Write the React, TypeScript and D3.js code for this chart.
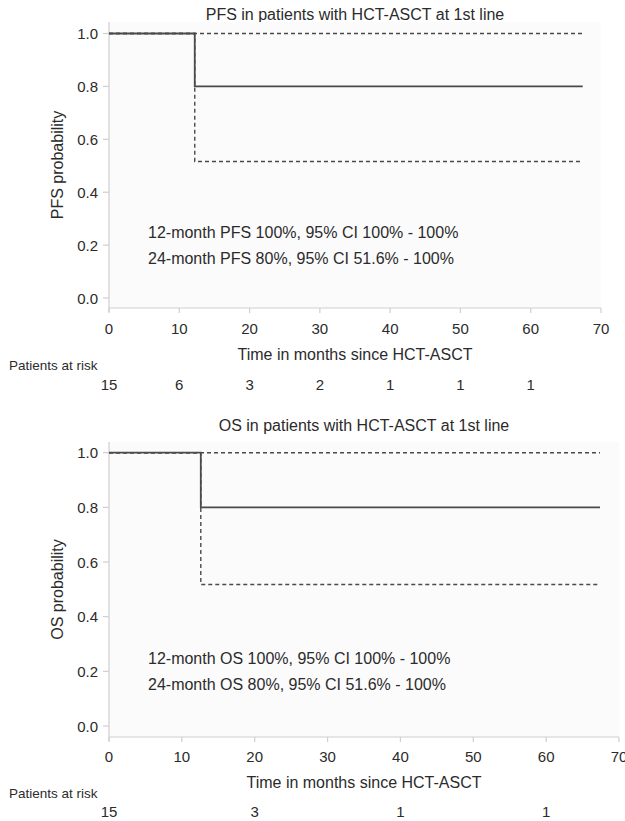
import React from "react";
import * as d3 from "d3";

// ---------- Data ----------
const pfsEstimate: [number, number][] = [[0, 1.0], [12.2, 0.8], [67.4, 0.8]];
const pfsUpper: [number, number][] = [[0, 1.0], [67.4, 1.0]];
const pfsLower: [number, number][] = [[0, 1.0], [12.2, 0.516], [67.4, 0.516]];
const pfsRiskTimes = [0, 10, 20, 30, 40, 50, 60];
const pfsRiskCounts = [15, 6, 3, 2, 1, 1, 1];
const pfsNotes = [
  "12-month PFS 100%, 95% CI 100% - 100%",
  "24-month PFS 80%, 95% CI 51.6% - 100%",
];

const osEstimate: [number, number][] = [[0, 1.0], [12.6, 0.8], [67.4, 0.8]];
const osUpper: [number, number][] = [[0, 1.0], [67.4, 1.0]];
const osLower: [number, number][] = [[0, 1.0], [12.6, 0.518], [67.4, 0.518]];
const osRiskTimes = [0, 20, 40, 60];
const osRiskCounts = [15, 3, 1, 1];
const osNotes = [
  "12-month OS 100%, 95% CI 100% - 100%",
  "24-month OS 80%, 95% CI 51.6% - 100%",
];

const xTicks = [0, 10, 20, 30, 40, 50, 60, 70];
const yTicks = [0, 0.2, 0.4, 0.6, 0.8, 1.0];

const FONT = "'Liberation Sans', Arial, Helvetica, sans-serif";
const TEXT = "#2b2b2b";
const LINE = "#4a4a4a";
const AXIS = "#cfcfcf";

type PanelProps = {
  title: string;
  yLabel: string;
  estimate: [number, number][];
  upper: [number, number][];
  lower: [number, number][];
  riskTimes: number[];
  riskCounts: number[];
  notes: string[];
  titleY: number;
  plotTop: number;
  y0: number;
  y1: number;
  axisY: number;
  xLeft: number;
  xRight: number;
  tickLabelY: number;
  xLabelY: number;
  riskHeaderY: number;
  riskY: number;
  notesY: number[];
};

function Panel(p: PanelProps) {
  const x = d3.scaleLinear().domain([0, 70]).range([p.xLeft, p.xRight]);
  const y = d3.scaleLinear().domain([0, 1]).range([p.y0, p.y1]);
  const line = d3
    .line<[number, number]>()
    .x((d) => x(d[0]))
    .y((d) => y(d[1]))
    .curve(d3.curveStepAfter);
  const fmt = d3.format(".1f");
  const cx = (p.xLeft + p.xRight) / 2;
  return (
    <g fontFamily={FONT} fill={TEXT}>
      <text x={cx} y={p.titleY} textAnchor="middle" dominantBaseline="central" fontSize={16}>
        {p.title}
      </text>
      <rect
        x={p.xLeft}
        y={p.plotTop}
        width={p.xRight - p.xLeft}
        height={p.axisY - p.plotTop}
        fill="#fbfbfb"
      />
      <line x1={p.xLeft} x2={p.xLeft} y1={p.plotTop} y2={p.axisY + 4} stroke={AXIS} strokeWidth={1.2} />
      <line x1={p.xLeft} x2={p.xRight} y1={p.axisY} y2={p.axisY} stroke={AXIS} strokeWidth={1.2} />
      {yTicks.map((t) => (
        <g key={"y" + t}>
          <line x1={p.xLeft - 6} x2={p.xLeft} y1={y(t)} y2={y(t)} stroke={AXIS} strokeWidth={1.2} />
          <text x={p.xLeft - 11} y={y(t)} textAnchor="end" dominantBaseline="central" fontSize={15}>
            {fmt(t)}
          </text>
        </g>
      ))}
      {xTicks.map((t) => (
        <g key={"x" + t}>
          <line x1={x(t)} x2={x(t)} y1={p.axisY} y2={p.axisY + 5} stroke={AXIS} strokeWidth={1.2} />
          <text x={x(t)} y={p.tickLabelY} textAnchor="middle" dominantBaseline="central" fontSize={15}>
            {t}
          </text>
        </g>
      ))}
      <text
        transform={`translate(57,${(p.plotTop + p.axisY) / 2}) rotate(-90)`}
        textAnchor="middle"
        dominantBaseline="central"
        fontSize={16}
      >
        {p.yLabel}
      </text>
      <text x={cx} y={p.xLabelY} textAnchor="middle" dominantBaseline="central" fontSize={16}>
        Time in months since HCT-ASCT
      </text>
      <text x={9} y={p.riskHeaderY} dominantBaseline="central" fontSize={13.5}>
        Patients at risk
      </text>
      {p.riskTimes.map((t, i) => (
        <text key={"r" + t} x={x(t)} y={p.riskY} textAnchor="middle" dominantBaseline="central" fontSize={15}>
          {p.riskCounts[i]}
        </text>
      ))}
      <path d={line(p.upper) || ""} fill="none" stroke={LINE} strokeWidth={1.4} strokeDasharray="4,3" />
      <path d={line(p.lower) || ""} fill="none" stroke={LINE} strokeWidth={1.4} strokeDasharray="4,3" />
      <path d={line(p.estimate) || ""} fill="none" stroke={LINE} strokeWidth={1.8} />
      {p.notes.map((n, i) => (
        <text key={"n" + i} x={p.xLeft + 39} y={p.notesY[i]} dominantBaseline="central" fontSize={16}>
          {n}
        </text>
      ))}
    </g>
  );
}

export default function App() {
  return (
    <svg
      width={625}
      height={821}
      style={{ position: "absolute", left: 0, top: 0, background: "#ffffff" }}
    >
      <Panel
        title="PFS in patients with HCT-ASCT at 1st line"
        yLabel="PFS probability"
        estimate={pfsEstimate}
        upper={pfsUpper}
        lower={pfsLower}
        riskTimes={pfsRiskTimes}
        riskCounts={pfsRiskCounts}
        notes={pfsNotes}
        titleY={14}
        plotTop={22}
        y0={298}
        y1={33.5}
        axisY={308}
        xLeft={109}
        xRight={601}
        tickLabelY={328}
        xLabelY={354}
        riskHeaderY={365}
        riskY={384}
        notesY={[232, 258]}
      />
      <Panel
        title="OS in patients with HCT-ASCT at 1st line"
        yLabel="OS probability"
        estimate={osEstimate}
        upper={osUpper}
        lower={osLower}
        riskTimes={osRiskTimes}
        riskCounts={osRiskCounts}
        notes={osNotes}
        titleY={425}
        plotTop={442}
        y0={726}
        y1={452.7}
        axisY={737}
        xLeft={109}
        xRight={619}
        tickLabelY={756}
        xLabelY={782}
        riskHeaderY={793}
        riskY={811}
        notesY={[658, 684]}
      />
    </svg>
  );
}
